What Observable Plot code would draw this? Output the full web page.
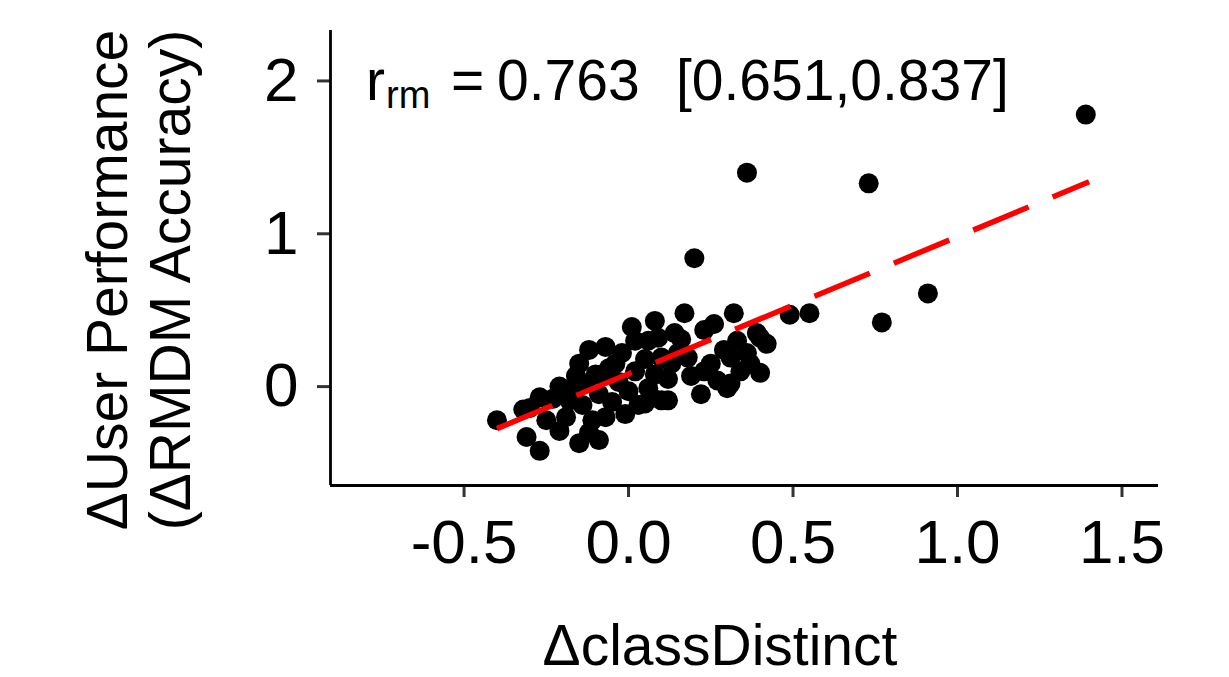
<!DOCTYPE html>
<html>
<head>
<meta charset="utf-8">
<script src="https://cdn.jsdelivr.net/npm/d3@7"></script>
<script src="https://cdn.jsdelivr.net/npm/@observablehq/plot@0.6"></script>
<style>
  html, body { margin: 0; padding: 0; background: #fff; }
  #chart svg { display: block; overflow: visible; }
</style>
</head>
<body>
<div id="chart"></div>
<script>
// ΔclassDistinct values
const classDistinct = [
  1.39, 0.36, 0.73, 0.20, 0.91, 0.77, 0.55, 0.49,
  -0.40, -0.32, -0.30, -0.27, -0.31, -0.27, -0.25, -0.23, -0.21, -0.21,
  -0.19, -0.18, -0.17, -0.15, -0.15, -0.14, -0.13, -0.12, -0.12, -0.10,
  -0.09, -0.09, -0.08, -0.07, -0.07, -0.06, -0.05, -0.04, -0.03, -0.01,
  0.00, 0.01, 0.02, 0.02, 0.03, 0.05, 0.05, 0.06, 0.06, 0.08, 0.08, 0.09,
  0.10, 0.10, 0.12, 0.12, 0.13, 0.15, 0.16, 0.17, 0.18, 0.19, 0.22, 0.23,
  0.23, 0.25, 0.26, 0.27, 0.29, 0.30, 0.31, 0.31, 0.32, 0.33, 0.34, 0.36,
  0.37, 0.39, 0.40, 0.40, 0.42, 0.14, -0.02, -0.16, 0.07, -0.11
];
// ΔUser Performance (ΔRMDM Accuracy) values
const userPerformance = [
  1.78, 1.40, 1.33, 0.84, 0.61, 0.42, 0.48, 0.47,
  -0.22, -0.15, -0.14, -0.07, -0.33, -0.42, -0.22, -0.08, 0.00, -0.29,
  -0.20, -0.09, -0.02, 0.15, -0.37, -0.12, 0.02, 0.24, -0.30, 0.08,
  -0.35, -0.05, 0.08, 0.26, -0.20, 0.12, -0.10, 0.15, 0.03, -0.18,
  -0.03, 0.39, 0.30, 0.10, -0.12, -0.11, 0.18, -0.01, 0.30, 0.43, 0.08, 0.32,
  -0.09, 0.19, -0.09, 0.05, 0.15, 0.22, 0.31, 0.48, 0.19, 0.07, -0.05, 0.10,
  0.37, 0.15, 0.41, 0.04, 0.24, -0.01, 0.19, 0.02, 0.48, 0.30, 0.10, 0.22,
  0.15, 0.35, 0.32, 0.09, 0.28, 0.35, 0.22, 0.07, -0.07, -0.22
];
// fitted line end points
const fitX = [-0.40, 1.40];
const fitY = [-0.275, 1.34];

const xTicks = [-0.5, 0.0, 0.5, 1.0, 1.5];
const yTicks = [0, 1, 2];

const points = classDistinct.map((x, i) => ({x, y: userPerformance[i]}));
const fit = fitX.map((x, i) => ({x, y: fitY[i]}));

const font = "'Liberation Sans', Arial, Helvetica, sans-serif";
const xDomain = [-0.906, 1.611];
const yDomain = [-0.647, 2.33];

const plot = Plot.plot({
  width: 1229,
  height: 677,
  marginLeft: 330,
  marginRight: 71,
  marginTop: 30,
  marginBottom: 192,
  x: {domain: xDomain},
  y: {domain: yDomain},
  style: {fontFamily: font, background: "#fff", color: "#000"},
  marks: [
    Plot.dot(points, {x: "x", y: "y", r: 10, fill: "#000", stroke: "none"}),
    Plot.line(fit, {x: "x", y: "y", stroke: "#FF0000", strokeWidth: 5.5,
      strokeDasharray: "60,26", strokeLinecap: "butt"}),
    Plot.axisX({ticks: xTicks, tickFormat: d => d.toFixed(1), tickSize: 12,
      tickPadding: 21, fontSize: 62, stroke: "#333", strokeWidth: 3,
      fill: "#000", label: null}),
    Plot.axisY({ticks: yTicks, tickFormat: d => String(d), tickSize: 13,
      tickPadding: 19, fontSize: 62, stroke: "#333", strokeWidth: 3,
      fill: "#000", label: null}),
    Plot.ruleX([xDomain[0]], {stroke: "#000", strokeWidth: 2.8}),
    Plot.ruleY([yDomain[0]], {stroke: "#000", strokeWidth: 2.8})
  ]
});

document.getElementById("chart").appendChild(plot);

const svg = d3.select(plot);

// y-axis title (two lines)
const yl = svg.append("g")
  .attr("font-family", font).attr("font-size", 57).attr("fill", "#000")
  .attr("text-anchor", "middle");
yl.append("text").attr("transform", "translate(127,280) rotate(-90)")
  .text("ΔUser Performance");
yl.append("text").attr("transform", "translate(190,280) rotate(-90)")
  .text("(ΔRMDM Accuracy)");

// x-axis title
svg.append("text")
  .attr("x", 720).attr("y", 665)
  .attr("font-family", font).attr("font-size", 57).attr("fill", "#000")
  .attr("text-anchor", "middle")
  .text("ΔclassDistinct");

// annotation
const ann = svg.append("text")
  .attr("font-family", font).attr("font-size", 57).attr("fill", "#000")
  .attr("text-anchor", "start");
ann.append("tspan").attr("x", 366).attr("y", 100).text("r");
ann.append("tspan").attr("x", 386).attr("y", 108).attr("font-size", 38).text("rm");
ann.append("tspan").attr("x", 451).attr("y", 100).text("=");
ann.append("tspan").attr("x", 497).attr("y", 100).text("0.763");
ann.append("tspan").attr("x", 676).attr("y", 100).text("[0.651,0.837]");
</script>
</body>
</html>
